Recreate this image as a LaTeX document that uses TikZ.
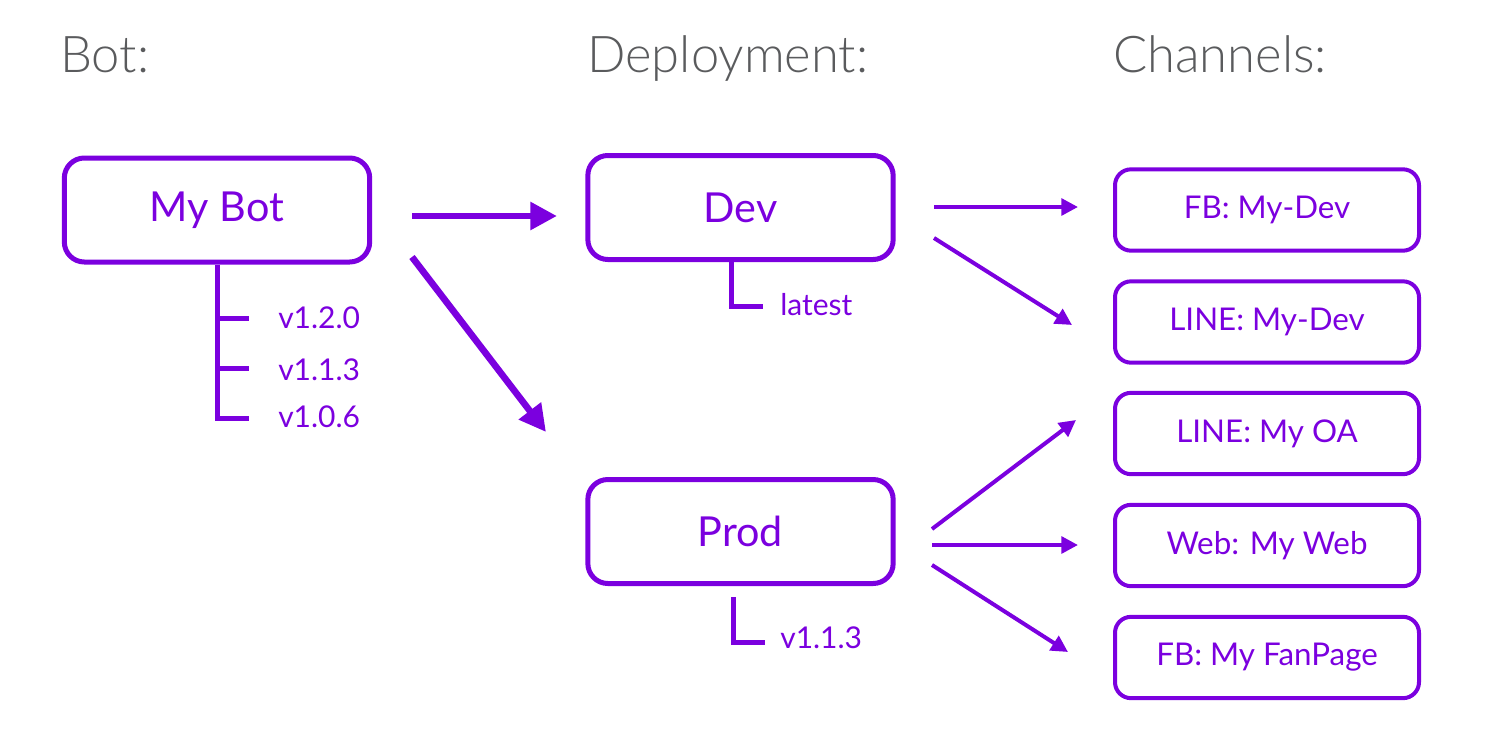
\documentclass[tikz,border=0pt]{standalone}
\usepackage{fontspec}
\setmainfont{Lato}
\newfontfamily\hdrfont{Lato Light}
\usetikzlibrary{arrows.meta}
\definecolor{vio}{HTML}{7B00DF}
\definecolor{hgray}{HTML}{5A5B5D}
\begin{document}
\begin{tikzpicture}[x=0.75pt,y=-0.75pt,
  hdr/.style={anchor=base west,text=hgray,font=\hdrfont\fontsize{38}{40}\selectfont,inner sep=0},
  bigbox/.style={draw=vio,line width=3.75pt,rounded corners=15pt,minimum width=229pt,minimum height=78pt,inner sep=0,text=vio,font=\fontsize{31}{34}\selectfont},
  chbox/.style={draw=vio,line width=3pt,rounded corners=12pt,minimum width=228pt,minimum height=61pt,inner sep=0,text=vio,font=\fontsize{23.5}{26}\selectfont},
  ver/.style={anchor=base west,inner sep=0,text=vio,font=\fontsize{22.5}{24}\selectfont},
  tree/.style={draw=vio,line width=3.75pt},
  bigarr/.style={draw=vio,line width=5pt,-{Triangle[length=20pt,width=20pt]}},
  smarr/.style={draw=vio,line width=3pt,-{Triangle[length=12.5pt,width=12.5pt]}}]
\useasboundingbox (0,0) rectangle (1486,746);
% headers
\node[hdr] (h1) at (60,72) {Bot:};
\node[hdr] (h2) at (587,72) {Deployment:};
\node[hdr] (h3) at (1113,72) {Channels:};
% main boxes
\node[bigbox] (bot) at (217,210) {My Bot};
\node[bigbox] (dev) at (740.5,207.5) {Dev};
\node[bigbox] (prod) at (740.5,531.5) {Prod};
% channels
\node[chbox] (c1) at (1267,210) {FB: My-Dev};
\node[chbox] (c2) at (1267,322) {LINE: My-Dev};
\node[chbox] (c3) at (1267,433.5) {LINE: My OA};
\node[chbox] (c4) at (1267,545.5) {Web: My Web};
\node[chbox] (c5) at (1267,657.5) {FB: My FanPage};
% bot versions tree
\coordinate (t0) at (217,421);
\coordinate (t1) at (249,318);
\coordinate (t2) at (249,368);
\coordinate (t3) at (249,418);
\draw[tree] (bot.south) -- (t0);
\draw[tree] (bot.south |- t1) -- (t1);
\draw[tree] (bot.south |- t2) -- (t2);
\draw[tree] (bot.south |- t3) -- (t3);
\node[ver] (v1) at (278,328) {v1.2.0};
\node[ver] (v2) at (278,380) {v1.1.3};
\node[ver] (v3) at (278,427) {v1.0.6};
% dev tree
\coordinate (dt0) at (731,262);
\coordinate (dt1) at (731,306);
\coordinate (dt2) at (763,306);
\draw[tree] (dt0) -- (dt1) -- (dt2);
\node[ver] (lt) at (780,315) {latest};
% prod tree
\coordinate (pt0) at (733,597);
\coordinate (pt1) at (733,642);
\coordinate (pt2) at (765,642);
\draw[tree] (pt0) -- (pt1) -- (pt2);
\node[ver] (pv) at (780,648) {v1.1.3};
% big arrows
\coordinate (b1s) at (412,216);
\coordinate (b1e) at (557,216);
\coordinate (b2s) at (412,257);
\coordinate (b2e) at (546,432);
\draw[bigarr] (b1s) -- (b1e);
\draw[bigarr] (b2s) -- (b2e);
% small arrows
\coordinate (a1s) at (934,207);
\coordinate (a1e) at (1078,207);
\coordinate (a2s) at (934,238);
\coordinate (a2e) at (1072,325);
\coordinate (a3s) at (932,529);
\coordinate (a3e) at (1076,420);
\coordinate (a4s) at (932,545);
\coordinate (a4e) at (1078,545);
\coordinate (a5s) at (932,565);
\coordinate (a5e) at (1068,652);
\draw[smarr] (a1s) -- (a1e);
\draw[smarr] (a2s) -- (a2e);
\draw[smarr] (a3s) -- (a3e);
\draw[smarr] (a4s) -- (a4e);
\draw[smarr] (a5s) -- (a5e);
\end{tikzpicture}
\end{document}
